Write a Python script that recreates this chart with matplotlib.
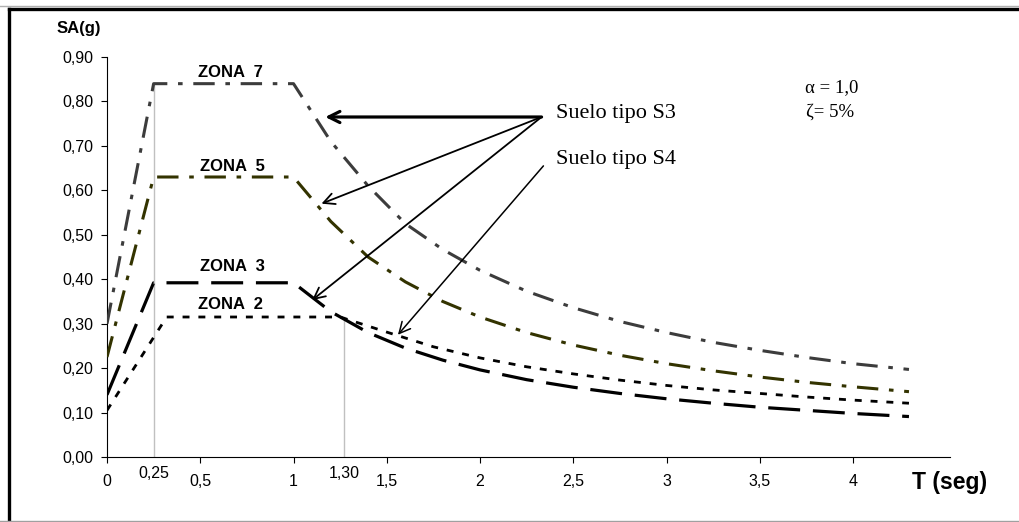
"""
Espectros de diseno (COVENIN) - zonas 7, 5, 3 (suelo S3) y zona 2 (suelo S4)
"""

import numpy as np
import matplotlib as mpl
mpl.use('Agg')
import matplotlib.pyplot as plt
from matplotlib.lines import Line2D

# data
T_s3 = [0.0, 0.25, 1.0, 1.2, 1.4, 1.6, 1.8, 2.0, 2.25, 2.5, 2.75,
        3.0, 3.25, 3.5, 3.75, 4.0, 4.3]
zona7 = [0.30, 0.84, 0.84, 0.71, 0.61, 0.525, 0.467, 0.42, 0.373, 0.336,
         0.305, 0.28, 0.258, 0.24, 0.224, 0.21, 0.197]
zona5 = [0.225, 0.63, 0.63, 0.53, 0.45, 0.394, 0.35, 0.315, 0.28, 0.252,
         0.229, 0.21, 0.194, 0.18, 0.168, 0.158, 0.147]
zona3 = [0.14, 0.392, 0.392, 0.327, 0.28, 0.245, 0.218, 0.196, 0.174, 0.157,
         0.143, 0.131, 0.121, 0.112, 0.105, 0.098, 0.091]

T_s4 = [0.0, 0.32, 1.25, 1.5, 1.75, 2.0, 2.25, 2.5, 2.75, 3.0, 3.25,
        3.5, 3.75, 4.0, 4.3]
zona2 = [0.105, 0.315, 0.315, 0.281, 0.248, 0.223, 0.203, 0.187, 0.173,
         0.161, 0.151, 0.143, 0.135, 0.128, 0.121]

xticks = [0, 0.5, 1, 1.5, 2, 2.5, 3, 3.5, 4]
xtick_labels = ['0', '0,5', '1', '1,5', '2', '2,5', '3', '3,5', '4']
yticks = [0.0, 0.1, 0.2, 0.3, 0.4, 0.5, 0.6, 0.7, 0.8, 0.9]
ytick_labels = ['0,00', '0,10', '0,20', '0,30', '0,40', '0,50', '0,60',
                '0,70', '0,80', '0,90']

# vertical guides: (T, top of line)
guides = [(0.25, 0.84), (1.27, 0.315)]
extra_labels = [(0.25, '0,25'), (1.27, '1,30')]

zone_labels = [('ZONA  7', 0.66, 0.865), ('ZONA  5', 0.67, 0.653),
               ('ZONA  3', 0.67, 0.428), ('ZONA  2', 0.66, 0.342)]

# arrows: (text origin, target)
arrows_s3 = [((2.33, 0.765), (1.17, 0.765), 2.3),
             ((2.33, 0.765), (1.15, 0.57), 1.3),
             ((2.33, 0.765), (1.10, 0.353), 1.3)]
arrows_s4 = [((2.34, 0.655), (1.56, 0.275), 1.1)]

plt.rc('font', family='Liberation Sans')
ftsize = 11.5
serif = 'Liberation Serif'

W, H = 1019, 522
fig = plt.figure(figsize=(W / 100, H / 100), dpi=100)
ax = fig.add_axes([107 / W, 1 - 457 / H, (950 - 107) / W, 400 / H])

for T, top in guides:
    ax.plot([T, T], [0, top], color='#c0c0c0', lw=1.0, zorder=1)

ax.plot(T_s3, zona7, color='#3c3c3c', lw=2.2, dashes=(7, 3.5, 1.5, 3.5),
        zorder=3)
ax.plot(T_s3, zona5, color='#333300', lw=2.2, dashes=(7, 3.5, 1.5, 3.5),
        zorder=3)
ax.plot(T_s3, zona3, color='black', lw=2.3, dashes=(10, 4), zorder=3)
ax.plot(T_s4, zona2, color='black', lw=2.0, dashes=(2.5, 3.2), zorder=3)

for name, x, y in zone_labels:
    ax.text(x, y, name, fontsize=12, fontweight='bold', ha='center',
            va='center')

for (x0, y0), (x1, y1), lw in arrows_s3 + arrows_s4:
    ax.annotate('', xy=(x1, y1), xytext=(x0, y0),
                arrowprops=dict(arrowstyle='->,head_length=0.8,head_width=0.4',
                                lw=lw, color='black', shrinkA=0, shrinkB=0))

ax.text(2.41, 0.772, 'Suelo tipo S3', fontsize=16, family=serif,
        ha='left', va='center')
ax.text(2.41, 0.669, 'Suelo tipo S4', fontsize=16, family=serif,
        ha='left', va='center')
ax.text(3.885, 0.831, 'α = 1,0', fontsize=13.5, family=serif,
        ha='center', va='center')
ax.text(3.875, 0.777, 'ζ= 5%', fontsize=13.5, family=serif,
        ha='center', va='center')

ax.set_xlim(0, 4.52)
ax.set_ylim(0, 0.9)
ax.set_xticks(xticks)
ax.set_xticklabels(xtick_labels, fontsize=ftsize)
ax.set_yticks(yticks)
ax.set_yticklabels(ytick_labels, fontsize=ftsize)
ax.tick_params(axis='x', direction='out', length=4, width=0.8, pad=8)
ax.tick_params(axis='y', direction='out', length=4, width=0.8, pad=6)
for s in ['top', 'right']:
    ax.spines[s].set_visible(False)
for s in ['left', 'bottom']:
    ax.spines[s].set_linewidth(0.8)

for T, lab in extra_labels:
    ax.text(T, -0.0425, lab, fontsize=ftsize, ha='center', va='center',
            transform=ax.get_xaxis_transform())

fig.text(57 / W, 1 - 29 / H, 'SA(g)', fontsize=12, fontweight='bold',
         ha='left', va='center')
fig.text(912 / W, 1 - 482 / H, 'T (seg)', fontsize=16.5, fontweight='bold',
         ha='left', va='center')

# outer frame like the original picture
fig.add_artist(Line2D([0, 1], [1 - 6 / H, 1 - 6 / H], color='#b0b0b0',
                      lw=1.0, transform=fig.transFigure))
fig.add_artist(Line2D([9 / W, 1], [1 - 9 / H, 1 - 9 / H], color='black',
                      lw=2.4, transform=fig.transFigure))
fig.add_artist(Line2D([9 / W, 9 / W], [0, 1 - 9 / H], color='black',
                      lw=2.4, transform=fig.transFigure))
fig.add_artist(Line2D([0, 1], [1.5 / H, 1.5 / H], color='#a0a0a0',
                      lw=1.0, transform=fig.transFigure))

plt.savefig('out.png', dpi=100)
